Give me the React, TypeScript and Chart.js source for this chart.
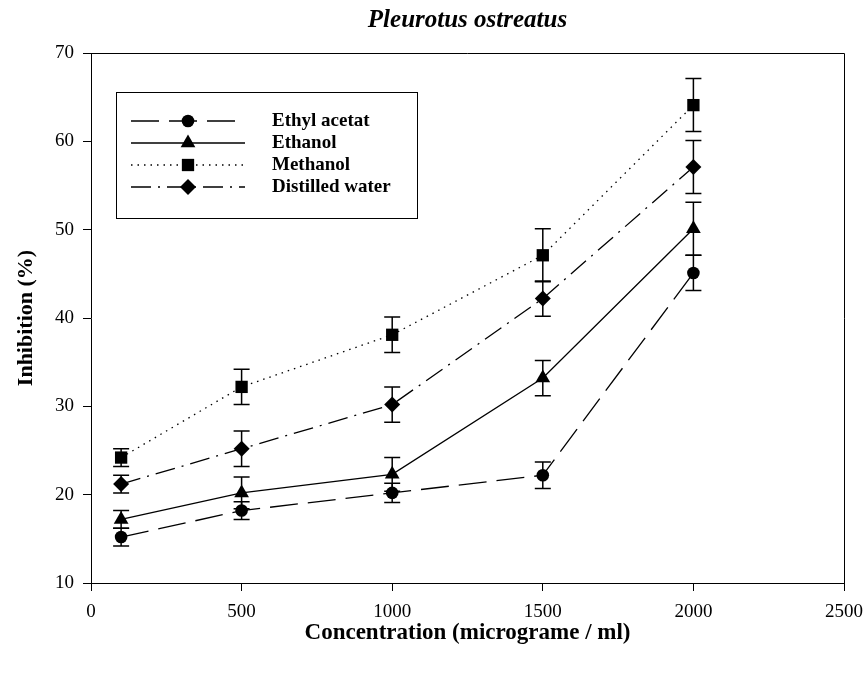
import React, { useEffect, useRef } from 'react';
import { Chart, registerables } from 'chart.js';

Chart.register(...registerables);

const CHART_TITLE = 'Pleurotus ostreatus';
const X_TITLE = 'Concentration (micrograme / ml)';
const Y_TITLE = 'Inhibition (%)';

const CONCENTRATIONS = [100, 500, 1000, 1500, 2000];

const ETHYL_ACETAT = [15.2, 18.2, 20.2, 22.2, 45.1];
const ETHYL_ACETAT_ERR = [1, 1, 1.1, 1.5, 2];

const ETHANOL = [17.2, 20.2, 22.3, 33.2, 50.1];
const ETHANOL_ERR = [1, 1.8, 1.9, 2, 3];

const METHANOL = [24.2, 32.2, 38.1, 47.1, 64.1];
const METHANOL_ERR = [1, 2, 2, 3, 3];

const DISTILLED_WATER = [21.2, 25.2, 30.2, 42.2, 57.1];
const DISTILLED_WATER_ERR = [1, 2, 2, 2, 3];

const SERIES_NAMES = ['Ethyl acetat', 'Ethanol', 'Methanol', 'Distilled water'];

const X_MIN = 0;
const X_MAX = 2500;
const X_STEP = 500;
const Y_MIN = 10;
const Y_MAX = 70;
const Y_STEP = 10;

const FONT = "'Liberation Serif', 'Times New Roman', serif";

type Style = {
  pointStyle: string;
  radius: number;
  dash: number[];
};

const STYLES: Style[] = [
  { pointStyle: 'circle', radius: 6.3, dash: [28, 10] },
  { pointStyle: 'triangle', radius: 8.5, dash: [] },
  { pointStyle: 'rect', radius: 8.7, dash: [1.5, 5] },
  { pointStyle: 'rectRot', radius: 8, dash: [20, 7, 2, 7] },
];

function drawMarker(ctx: CanvasRenderingContext2D, style: string, x: number, y: number, r: number) {
  ctx.beginPath();
  if (style === 'circle') {
    ctx.arc(x, y, r, 0, Math.PI * 2);
  } else if (style === 'triangle') {
    for (let k = 0; k < 3; k++) {
      const a = (k * 2 * Math.PI) / 3;
      const px = x + Math.sin(a) * r;
      const py = y - Math.cos(a) * r;
      if (k === 0) ctx.moveTo(px, py);
      else ctx.lineTo(px, py);
    }
    ctx.closePath();
  } else if (style === 'rect') {
    const s = Math.SQRT1_2 * r;
    ctx.rect(x - s, y - s, 2 * s, 2 * s);
  } else {
    ctx.moveTo(x - r, y);
    ctx.lineTo(x, y - r);
    ctx.lineTo(x + r, y);
    ctx.lineTo(x, y + r);
    ctx.closePath();
  }
  ctx.fill();
}

const errorBarPlugin = {
  id: 'errorBars',
  afterDatasetsDraw(chart: any) {
    const { ctx, scales } = chart;
    const xs = scales.x;
    const ys = scales.y;
    ctx.save();
    ctx.strokeStyle = '#000';
    ctx.lineWidth = 1.5;
    ctx.setLineDash([]);
    chart.data.datasets.forEach((ds: any) => {
      ds.data.forEach((p: any, i: number) => {
        const e = ds.errors[i];
        const px = xs.getPixelForValue(p.x);
        const top = ys.getPixelForValue(p.y + e);
        const bot = ys.getPixelForValue(p.y - e);
        ctx.beginPath();
        ctx.moveTo(px, top);
        ctx.lineTo(px, bot);
        ctx.moveTo(px - 8, top);
        ctx.lineTo(px + 8, top);
        ctx.moveTo(px - 8, bot);
        ctx.lineTo(px + 8, bot);
        ctx.stroke();
      });
    });
    ctx.restore();
  },
};

const framePlugin = {
  id: 'frameAndTitle',
  afterDraw(chart: any) {
    const { ctx, chartArea } = chart;
    const { left, right, top, bottom } = chartArea;
    ctx.save();
    ctx.strokeStyle = '#000';
    ctx.lineWidth = 1;
    ctx.setLineDash([]);
    ctx.beginPath();
    ctx.moveTo(left, top + 0.5);
    ctx.lineTo(right + 0.5, top + 0.5);
    ctx.lineTo(right + 0.5, bottom);
    ctx.stroke();

    // chart title centred over the plot area
    ctx.fillStyle = '#000';
    ctx.font = `italic bold 25px ${FONT}`;
    ctx.textAlign = 'center';
    ctx.textBaseline = 'middle';
    ctx.fillText(CHART_TITLE, (left + right) / 2, 21);

    // legend box
    const bx = 116;
    const by = 92;
    const bw = 301;
    const bh = 126;
    ctx.fillStyle = '#fff';
    ctx.fillRect(bx, by, bw, bh);
    ctx.strokeStyle = '#000';
    ctx.lineWidth = 1;
    ctx.strokeRect(bx + 0.5, by + 0.5, bw, bh);

    const rowY = [121, 143, 165, 187];
    chart.data.datasets.forEach((ds: any, i: number) => {
      const st = STYLES[i];
      const y = rowY[i];
      ctx.strokeStyle = '#000';
      ctx.lineWidth = 1.3;
      ctx.setLineDash(st.dash);
      ctx.beginPath();
      ctx.moveTo(131, y);
      ctx.lineTo(245, y);
      ctx.stroke();
      ctx.setLineDash([]);
      ctx.fillStyle = '#000';
      drawMarker(ctx, st.pointStyle, 188, y, st.radius);
      ctx.font = `bold 19px ${FONT}`;
      ctx.textAlign = 'left';
      ctx.textBaseline = 'middle';
      ctx.fillText(ds.label, 272, y);
    });
    ctx.restore();
  },
};

export default function App() {
  const canvasRef = useRef<HTMLCanvasElement | null>(null);

  useEffect(() => {
    const canvas = canvasRef.current;
    if (!canvas) return;
    const values = [ETHYL_ACETAT, ETHANOL, METHANOL, DISTILLED_WATER];
    const errors = [ETHYL_ACETAT_ERR, ETHANOL_ERR, METHANOL_ERR, DISTILLED_WATER_ERR];

    const datasets = SERIES_NAMES.map((name, i) => ({
      label: name,
      data: CONCENTRATIONS.map((c, j) => ({ x: c, y: values[i][j] })),
      errors: errors[i],
      borderColor: '#000',
      backgroundColor: '#000',
      borderWidth: 1.3,
      borderDash: STYLES[i].dash,
      pointStyle: STYLES[i].pointStyle,
      pointRadius: STYLES[i].radius,
      pointBorderWidth: 0,
      pointBackgroundColor: '#000',
      pointBorderColor: '#000',
      tension: 0,
      fill: false,
    }));

    const chart = new Chart(canvas, {
      type: 'line',
      data: { datasets } as any,
      options: {
        responsive: false,
        animation: false,
        devicePixelRatio: 1,
        layout: { padding: { top: 53, right: 24, bottom: 0, left: 0 } },
        plugins: {
          legend: { display: false },
          title: { display: false },
          tooltip: { enabled: false },
        },
        scales: {
          x: {
            type: 'linear',
            min: X_MIN,
            max: X_MAX,
            ticks: {
              stepSize: X_STEP,
              color: '#000',
              font: { family: FONT, size: 19 },
              padding: 10,
              maxRotation: 0,
              callback: (v: any) => String(v),
            },
            grid: {
              display: true,
              drawOnChartArea: false,
              drawTicks: true,
              tickLength: 8,
              color: '#000',
            },
            border: { display: true, color: '#000', width: 1 },
            title: {
              display: true,
              text: X_TITLE,
              color: '#000',
              font: { family: FONT, size: 23, weight: 'bold' },
              padding: { top: 0, bottom: 26 },
            },
            afterFit: (scale: any) => {
              scale.height = 90;
              scale.paddingRight = 0;
              scale.paddingLeft = 0;
            },
          },
          y: {
            type: 'linear',
            min: Y_MIN,
            max: Y_MAX,
            ticks: {
              stepSize: Y_STEP,
              color: '#000',
              font: { family: FONT, size: 19 },
              padding: 9,
              callback: (v: any) => String(v),
            },
            grid: {
              display: true,
              drawOnChartArea: false,
              drawTicks: true,
              tickLength: 8,
              color: '#000',
            },
            border: { display: true, color: '#000', width: 1 },
            title: {
              display: true,
              text: Y_TITLE,
              color: '#000',
              font: { family: FONT, size: 22, weight: 'bold' },
              padding: { top: 13, bottom: 0 },
            },
            afterFit: (scale: any) => {
              scale.width = 91;
            },
          },
        },
      } as any,
      plugins: [errorBarPlugin, framePlugin],
    });

    return () => {
      chart.destroy();
    };
  }, []);

  return (
    <div style={{ position: 'absolute', left: 0, top: 0, width: 868, height: 673, background: '#fff' }}>
      <canvas ref={canvasRef} width={868} height={673} style={{ display: 'block' }} />
    </div>
  );
}
